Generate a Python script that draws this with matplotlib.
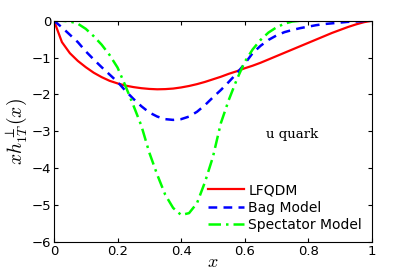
import numpy as np
import matplotlib.pyplot as plt

# x grid and curves
x = np.linspace(0, 1, 41)

lfqdm = [0, -0.58, -0.88, -1.09, -1.26, -1.41, -1.53, -1.63, -1.70, -1.76,
         -1.80, -1.83, -1.85, -1.86, -1.855, -1.84, -1.81, -1.77, -1.72, -1.66,
         -1.59, -1.52, -1.44, -1.37, -1.29, -1.22, -1.14, -1.05, -0.96, -0.87,
         -0.78, -0.69, -0.60, -0.51, -0.42, -0.33, -0.25, -0.17, -0.10, -0.04, 0]

bag = [0, -0.18, -0.38, -0.58, -0.83, -1.05, -1.26, -1.46, -1.66, -1.90,
       -2.12, -2.32, -2.49, -2.60, -2.67, -2.69, -2.67, -2.60, -2.47, -2.29,
       -2.08, -1.88, -1.66, -1.43, -1.17, -0.88, -0.68, -0.52, -0.40, -0.31,
       -0.25, -0.20, -0.16, -0.12, -0.09, -0.07, -0.05, -0.03, -0.02, -0.01, 0]

spectator = [0, 0.0, -0.02, -0.08, -0.22, -0.42, -0.65, -0.93, -1.27, -1.77,
             -2.30, -2.85, -3.58, -4.18, -4.72, -5.08, -5.27, -5.22, -4.95, -4.38,
             -3.70, -2.78, -2.15, -1.60, -1.12, -0.78, -0.52, -0.32, -0.18, -0.08,
             -0.02, 0.0, 0, 0, 0, 0, 0, 0, 0, 0, 0]

plt.rcParams['mathtext.fontset'] = 'cm'

fig = plt.figure(figsize=(4.09, 2.73), dpi=100)
ax = fig.add_axes([0.132, 0.114, 0.777, 0.81])

ax.plot(x, lfqdm, color='#ff0000', lw=1.6, label='LFQDM')
ax.plot(x, bag, color='#0000ff', lw=1.8, ls=(0, (3.5, 2.5)), label='Bag Model')
ax.plot(x, spectator, color='#00ff00', lw=1.8, ls=(0, (5, 2, 1, 2)), label='Spectator Model')

ax.set_xlim(0, 1)
ax.set_ylim(-6, 0)
ax.set_xticks([0, 0.2, 0.4, 0.6, 0.8, 1])
ax.set_xticklabels(['0', '0.2', '0.4', '0.6', '0.8', '1'])
ax.set_yticks([-6, -5, -4, -3, -2, -1, 0])
ax.tick_params(direction='in', top=True, right=True, labelsize=9.5, length=3, pad=2)
for s in ax.spines.values():
    s.set_linewidth(0.8)

ax.set_xlabel('$x$', fontsize=13, labelpad=-3)
ax.set_ylabel(r'$xh_{1T}^{\perp}(x)$', fontsize=14, labelpad=2)

ax.text(0.75, -3.08, 'u quark', family='DejaVu Serif', fontsize=9.5, ha='center', va='center')

ax.legend(loc='lower right', frameon=False, fontsize=10, handlelength=2.6,
          handletextpad=0.3, labelspacing=0.25, borderaxespad=0.3,
          bbox_to_anchor=(1.0, 0.0))

fig.savefig('out.png', dpi=100)
